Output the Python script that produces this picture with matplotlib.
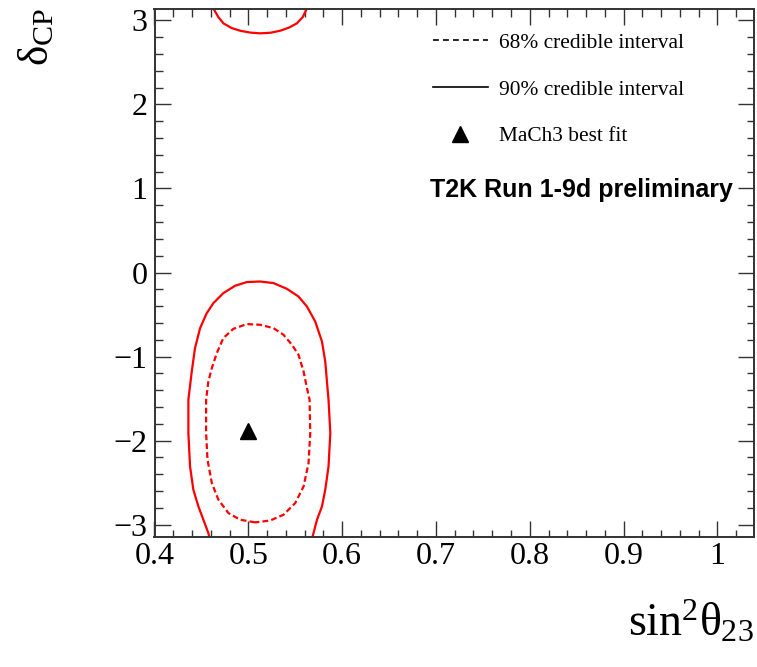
import numpy as np
import matplotlib
matplotlib.use("Agg")
import matplotlib.pyplot as plt
from matplotlib.lines import Line2D
from matplotlib.ticker import MultipleLocator, FuncFormatter

plt.rcParams['font.family'] = ['Liberation Serif', 'DejaVu Serif']
plt.rcParams['mathtext.fontset'] = 'custom'
plt.rcParams['mathtext.rm'] = 'Liberation Serif'
plt.rcParams['mathtext.it'] = 'Liberation Serif'
plt.rcParams['mathtext.bf'] = 'Liberation Serif:bold'

# 90% credible region (solid), main lobe, open at the bottom edge
c90_x = [0.4583, 0.4574, 0.4521, 0.4468, 0.4414, 0.4379, 0.4361, 0.4361, 0.4397,
         0.4432, 0.4486, 0.4557, 0.4628, 0.4734, 0.4859, 0.4984, 0.5126, 0.5268,
         0.5411, 0.5535, 0.5625, 0.5713, 0.5785, 0.5820, 0.5838, 0.5855, 0.5874,
         0.5855, 0.5820, 0.5785, 0.5732, 0.5695, 0.5685]
c90_y = [-3.1416, -3.101, -2.942, -2.784, -2.585, -2.308, -1.911, -1.515, -1.178,
         -0.899, -0.662, -0.483, -0.364, -0.245, -0.158, -0.114, -0.107, -0.126,
         -0.194, -0.286, -0.405, -0.583, -0.821, -1.059, -1.297, -1.515, -1.911,
         -2.308, -2.585, -2.784, -2.942, -3.101, -3.1416]
# 90% region wrapping round at delta_CP = +pi
c90_top_x = [0.4628, 0.4680, 0.4735, 0.4820, 0.4913, 0.5020, 0.5126, 0.5235, 0.5340,
             0.5435, 0.5518, 0.5580, 0.5625]
c90_top_y = [3.1416, 3.040, 2.965, 2.910, 2.877, 2.855, 2.846, 2.853, 2.877,
             2.915, 2.965, 3.040, 3.1416]

# 68% credible region (dashed)
c68_x = [0.5073, 0.4913, 0.4788, 0.4681, 0.4611, 0.4565, 0.4550, 0.4550, 0.4574,
         0.4611, 0.4664, 0.4734, 0.4841, 0.4984, 0.5126, 0.5268, 0.5375, 0.5465,
         0.5535, 0.5589, 0.5625, 0.5653, 0.5660, 0.5642, 0.5589, 0.5500, 0.5375,
         0.5233, 0.5073]
c68_y = [-2.974, -2.942, -2.863, -2.704, -2.506, -2.228, -1.911, -1.515, -1.297,
         -1.137, -0.959, -0.780, -0.670, -0.614, -0.622, -0.662, -0.741, -0.860,
         -0.979, -1.178, -1.375, -1.515, -1.911, -2.268, -2.546, -2.744, -2.883,
         -2.951, -2.974]

best_fit_x = [0.5]
best_fit_y = [-1.89]

legend_labels = ['68% credible interval', '90% credible interval', 'MaCh3 best fit']
xticks = [0.4, 0.5, 0.6, 0.7, 0.8, 0.9, 1.0]
yticks = [-3, -2, -1, 0, 1, 2, 3]

W, H = 757, 667
fig = plt.figure(figsize=(W / 100, H / 100), dpi=100)
ax = fig.add_axes([154.5 / W, (H - 536.5) / H, (754 - 154.5) / W, (536.5 - 8.5) / H])

red = '#ff0000'
ax.plot(c90_x, c90_y, color=red, lw=1.6, solid_joinstyle='round')
ax.plot(c90_top_x, c90_top_y, color=red, lw=1.6, solid_joinstyle='round')
ax.plot(c68_x, c68_y, color=red, lw=1.6, linestyle=(0, (2.6, 1.4)))
ax.plot(best_fit_x, best_fit_y, linestyle='none', marker='^', color='black', markersize=11)

ax.set_xlim(0.4, 1.039)
ax.set_ylim(-np.pi, np.pi)

ax.set_xticks(xticks)
ax.set_yticks(yticks)
ax.xaxis.set_minor_locator(MultipleLocator(0.02))
ax.yaxis.set_minor_locator(MultipleLocator(0.2))
ax.xaxis.set_major_formatter(FuncFormatter(lambda v, p: '%g' % v))
ax.yaxis.set_major_formatter(FuncFormatter(lambda v, p: ('%g' % v).replace('-', '\u2212')))

ax.tick_params(which='both', direction='in', top=True, right=True, color='#333333', width=1.0)
ax.tick_params(which='major', length=11.5, labelsize=23, pad=5)
ax.tick_params(which='minor', length=5.4)
ax.tick_params(axis='x', which='major', pad=4)
for s in ax.spines.values():
    s.set_linewidth(1.4)
    s.set_color('#333333')

ax.set_xlabel(r'$\mathrm{sin}^{2}\theta_{23}$', fontsize=33, ha='right', va='top')
ax.xaxis.set_label_coords(0.999, -0.119)
ax.set_ylabel(r'$\delta_{\mathrm{CP}}$', fontsize=31, rotation=90, ha='right', va='top')
ax.yaxis.set_label_coords(-0.228, 1.0)

handles = [Line2D([], [], color='black', lw=1.2, linestyle=(0, (3.5, 2.5))),
           Line2D([], [], color='black', lw=1.2),
           Line2D([], [], linestyle='none', marker='^', color='black', markersize=11)]
fig.legend(handles, legend_labels, loc='upper left', bbox_to_anchor=(433 / W, 1 - 33 / H),
           frameon=False, borderpad=0, borderaxespad=0, handlelength=2.55,
           handletextpad=0.55, labelspacing=1.25, prop={'family': 'Liberation Serif', 'size': 15.4})

fig.text(733 / W, 1 - 190 / H, 'T2K Run 1-9d preliminary', ha='right', va='center',
         fontsize=18, fontweight='bold', family='Liberation Sans')

fig.savefig('out.png', dpi=100)
